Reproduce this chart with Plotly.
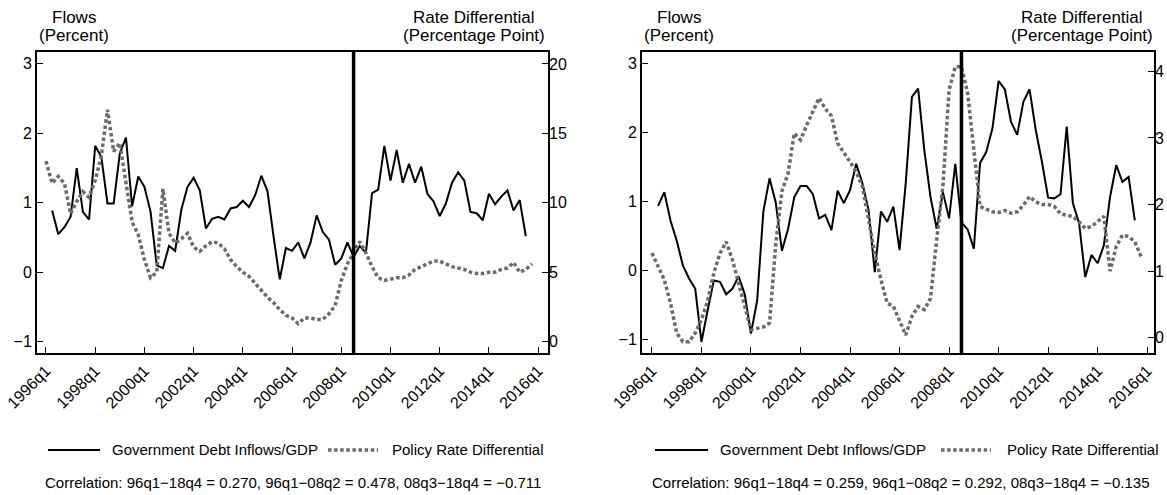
import plotly.graph_objects as go

# ---------------- data ----------------
quarters = [f"{y}q{q}" for y in range(1996, 2016) for q in range(1, 5)]
tick_labels = ["1996q1", "1998q1", "2000q1", "2002q1", "2004q1", "2006q1",
               "2008q1", "2010q1", "2012q1", "2014q1", "2016q1"]
break_quarter = "2008q3"

# Left panel
left_flows = [None, 0.89, 0.55, 0.65, 0.80, 1.50, 0.87, 0.76, 1.82, 1.66,
              0.99, 0.99, 1.71, 1.94, 0.95, 1.38, 1.23, 0.87, 0.10, 0.06,
              0.38, 0.31, 0.90, 1.23, 1.36, 1.18, 0.63, 0.77, 0.80, 0.76,
              0.92, 0.94, 1.03, 0.94, 1.11, 1.39, 1.17, 0.51, -0.10, 0.35,
              0.31, 0.43, 0.20, 0.43, 0.82, 0.58, 0.47, 0.11, 0.20, 0.43,
              0.22, 0.38, 0.28, 1.14, 1.19, 1.82, 1.32, 1.76, 1.29, 1.56,
              1.29, 1.52, 1.13, 1.02, 0.81, 0.99, 1.29, 1.44, 1.32, 0.87,
              0.85, 0.75, 1.13, 0.98, 1.09, 1.18, 0.89, 1.04, 0.52, None]
left_rate = [13.0, 11.4, 11.9, 11.4, 9.2, 10.1, 10.8, 10.4, 11.6, 13.4,
             16.7, 13.7, 14.3, 11.4, 8.6, 7.7, 5.9, 4.6, 5.0, 11.0,
             7.8, 7.1, 7.4, 7.8, 6.8, 6.5, 6.9, 7.2, 7.1, 6.7,
             5.9, 5.4, 5.0, 4.7, 4.2, 3.7, 3.2, 2.8, 2.3, 1.9,
             1.7, 1.3, 1.7, 1.7, 1.6, 1.6, 2.0, 2.6, 4.4, 5.6,
             6.4, 7.2, 6.4, 5.4, 4.6, 4.4, 4.5, 4.6, 4.6, 4.8,
             5.2, 5.4, 5.6, 5.8, 5.8, 5.6, 5.4, 5.3, 5.2, 5.0,
             4.9, 4.9, 5.0, 5.0, 5.2, 5.3, 5.7, 5.0, 5.2, 5.6]

# Right panel
right_flows = [None, 0.94, 1.14, 0.73, 0.44, 0.08, -0.11, -0.26, -1.03, -0.57,
               -0.14, -0.16, -0.34, -0.26, -0.08, -0.34, -0.91, -0.43, 0.86, 1.34,
               0.99, 0.29, 0.61, 1.07, 1.23, 1.23, 1.11, 0.76, 0.81, 0.59,
               1.16, 0.98, 1.17, 1.55, 1.27, 0.88, -0.02, 0.86, 0.71, 0.93,
               0.30, 1.27, 2.52, 2.64, 1.75, 1.07, 0.61, 1.14, 0.76, 1.55,
               0.70, 0.60, 0.32, 1.56, 1.72, 2.06, 2.75, 2.63, 2.16, 1.97,
               2.45, 2.63, 2.04, 1.58, 1.06, 1.05, 1.11, 2.09, 0.98, 0.69,
               -0.09, 0.23, 0.11, 0.37, 1.07, 1.53, 1.29, 1.36, 0.73, None]
right_rate = [1.27, 1.07, 0.87, 0.52, 0.07, -0.06, -0.06, 0.07, 0.27, 0.55,
              0.97, 1.27, 1.44, 1.17, 0.82, 0.47, 0.12, 0.14, 0.16, 0.22,
              1.40, 2.20, 2.47, 3.07, 2.97, 3.19, 3.39, 3.60, 3.44, 3.33,
              2.92, 2.79, 2.64, 2.49, 2.27, 1.77, 1.27, 0.87, 0.52, 0.47,
              0.27, 0.04, 0.32, 0.47, 0.42, 0.59, 1.47, 2.27, 3.72, 4.07,
              4.07, 3.67, 2.82, 1.97, 1.93, 1.89, 1.88, 1.91, 1.87, 1.89,
              1.99, 2.12, 2.04, 2.00, 2.00, 1.97, 1.86, 1.84, 1.82, 1.74,
              1.64, 1.67, 1.74, 1.82, 1.00, 1.37, 1.54, 1.52, 1.44, 1.22]

flows_ticks = [-1, 0, 1, 2, 3]
left_rate_ticks = [0, 5, 10, 15, 20]
right_rate_ticks = [0, 1, 2, 3, 4]

series_names = ["Government Debt Inflows/GDP", "Policy Rate Differential"]
notes = ["Correlation: 96q1\u221218q4 = 0.270, 96q1\u221208q2 = 0.478, 08q3\u221218q4 = \u22120.711",
         "Correlation: 96q1\u221218q4 = 0.259, 96q1\u221208q2 = 0.292, 08q3\u221218q4 = \u22120.135"]

# ---------------- layout helpers ----------------
W, H = 1167, 495
FONT = "Liberation Sans, Arial, Helvetica, sans-serif"
GRAY = "#6b6b6b"
DOT = "3.5px,2.6px"


def px(x):
    return x / W


def py(y):
    return 1 - y / H


x_idx = list(range(len(quarters)))
tick_pos = [(int(t[:4]) - 1996) * 4 + int(t[-1]) - 1 for t in tick_labels]
break_pos = quarters.index(break_quarter)

fig = go.Figure()

panels = [
    dict(x="x", y="y", y2="y2", flows=left_flows, rate=left_rate),
    dict(x="x2", y="y3", y2="y4", flows=right_flows, rate=right_rate),
]
for p in panels:
    fig.add_trace(go.Scatter(x=x_idx, y=p["flows"], xaxis=p["x"], yaxis=p["y"],
                             mode="lines", name=series_names[0], showlegend=False,
                             line=dict(color="black", width=2)))
    fig.add_trace(go.Scatter(x=x_idx, y=p["rate"], xaxis=p["x"], yaxis=p["y2"],
                             mode="lines", name=series_names[1], showlegend=False,
                             line=dict(color=GRAY, width=3.5, dash=DOT)))

ydom = [py(353), py(52)]
xdom1 = [px(37), px(548)]
xdom2 = [px(642), px(1154)]

tickfont = dict(family=FONT, size=16, color="black")
xcommon = dict(tickmode="array", tickvals=tick_pos, ticktext=tick_labels,
               tickangle=-45, ticks="inside", ticklen=6, tickwidth=1.3,
               tickcolor="black", showline=True, linecolor="black", linewidth=2,
               mirror=True, showgrid=False, zeroline=False, tickfont=tickfont,
               automargin=False)
ycommon = dict(ticks="inside", ticklen=6, tickwidth=1.3, tickcolor="black",
               showgrid=False, zeroline=False, tickfont=tickfont, automargin=False)

fig.update_layout(
    width=W, height=H, autosize=False,
    margin=dict(l=0, r=0, t=0, b=0, pad=0),
    paper_bgcolor="white", plot_bgcolor="white",
    showlegend=False,
    font=dict(family=FONT, size=15, color="black"),
    xaxis=dict(domain=xdom1, anchor="y", range=[-1.46, 81.6], **xcommon),
    yaxis=dict(domain=ydom, anchor="x", range=[-1.16, 3.17], tickvals=flows_ticks,
               showline=True, linecolor="black", linewidth=2, mirror=True, **ycommon),
    yaxis2=dict(overlaying="y", side="right", anchor="x", range=[-0.82, 20.86],
                tickvals=left_rate_ticks, showline=False, **ycommon),
    xaxis2=dict(domain=xdom2, anchor="y3", range=[-1.6, 81.1], **xcommon),
    yaxis3=dict(domain=ydom, anchor="x2", range=[-1.19, 3.17], tickvals=flows_ticks,
                showline=True, linecolor="black", linewidth=2, mirror=True, **ycommon),
    yaxis4=dict(overlaying="y3", side="right", anchor="x2", range=[-0.23, 4.29],
                tickvals=right_rate_ticks, showline=False, **ycommon),
)

shapes = []
annotations = []
# break lines
for xr, yr in [("x", "y domain"), ("x2", "y3 domain")]:
    shapes.append(dict(type="line", xref=xr, yref=yr, x0=break_pos, x1=break_pos,
                       y0=0, y1=1, line=dict(color="black", width=3.5), layer="above"))

title_font = dict(family=FONT, size=17, color="black")
legend_font = dict(family=FONT, size=15, color="black")

# per-panel positions (pixels)
panel_px = [
    dict(left=37, right=548, leg=[48, 100, 110, 328, 378, 390], center=293),
    dict(left=642, right=1156, leg=[655, 708, 718, 941, 991, 1005], center=901),
]
for i, pp in enumerate(panel_px):
    # axis titles
    annotations.append(dict(xref="paper", yref="paper", x=px(pp["left"] + 37), y=py(17),
                            text="Flows", showarrow=False, xanchor="center",
                            yanchor="middle", font=title_font))
    annotations.append(dict(xref="paper", yref="paper", x=px(pp["left"] + 37), y=py(35),
                            text="(Percent)", showarrow=False, xanchor="center",
                            yanchor="middle", font=title_font))
    annotations.append(dict(xref="paper", yref="paper", x=px(pp["right"] - 74), y=py(17),
                            text="Rate Differential", showarrow=False, xanchor="center",
                            yanchor="middle", font=title_font))
    annotations.append(dict(xref="paper", yref="paper", x=px(pp["right"] - 74), y=py(35),
                            text="(Percentage Point)", showarrow=False, xanchor="center",
                            yanchor="middle", font=title_font))
    # legend
    l = pp["leg"]
    shapes.append(dict(type="line", xref="paper", yref="paper", x0=px(l[0]), x1=px(l[1]),
                       y0=py(450), y1=py(450), line=dict(color="black", width=2)))
    annotations.append(dict(xref="paper", yref="paper", x=px(l[2]), y=py(449),
                            text=series_names[0], showarrow=False, xanchor="left",
                            yanchor="middle", font=legend_font))
    shapes.append(dict(type="line", xref="paper", yref="paper", x0=px(l[3]), x1=px(l[4]),
                       y0=py(450), y1=py(450), line=dict(color=GRAY, width=3.5, dash=DOT)))
    annotations.append(dict(xref="paper", yref="paper", x=px(l[5]), y=py(449),
                            text=series_names[1], showarrow=False, xanchor="left",
                            yanchor="middle", font=legend_font))
    # note
    annotations.append(dict(xref="paper", yref="paper", x=px(pp["center"]), y=py(482),
                            text=notes[i], showarrow=False, xanchor="center",
                            yanchor="middle", font=legend_font))

fig.update_layout(shapes=shapes, annotations=annotations)

fig.write_html("out.html", config={"displayModeBar": False},
               post_script="document.body.style.margin='0px';")
